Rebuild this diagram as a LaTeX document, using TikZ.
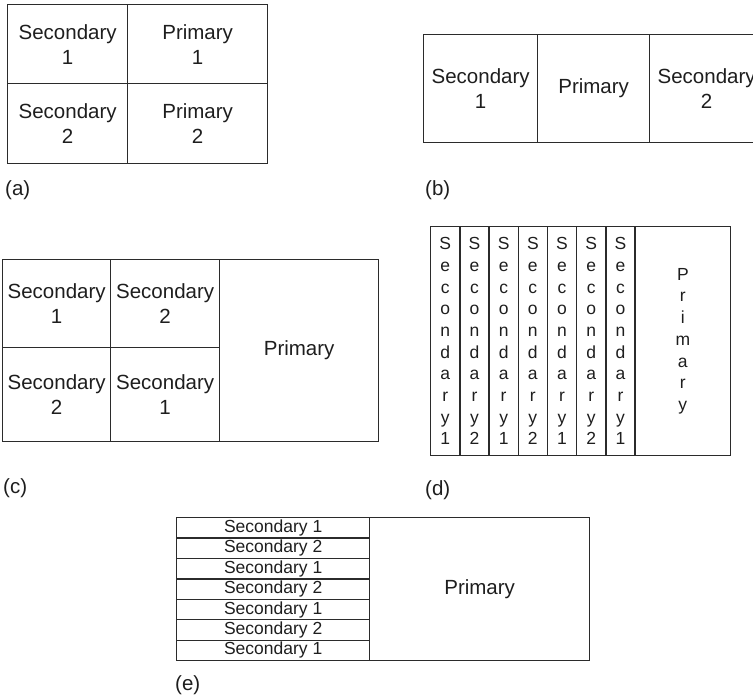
\documentclass[tikz,border=0pt]{standalone}
\usepackage{fontspec}
\setmainfont{Liberation Sans}
\usepackage{tikz}
\definecolor{LayoutLine}{HTML}{2B2B2B}
\definecolor{LayoutText}{HTML}{1E1E1E}
\tikzset{
  cell/.style={
    draw=LayoutLine,
    line width=1.3pt,
    anchor=north west,
    inner sep=0pt,
    align=center,
    text=LayoutText,
    font=\fontsize{20.5}{25}\selectfont
  },
  slim/.style={cell,font=\fontsize{17.5}{21.7}\selectfont},
  strip/.style={cell,font=\fontsize{17.5}{20}\selectfont},
  caption/.style={anchor=west,inner sep=0pt,text=LayoutText,font=\fontsize{20.5}{25}\selectfont}
}

\begin{document}
\begin{tikzpicture}[x=1pt,y=-1pt]
  \useasboundingbox (0,0) rectangle (753,698);

  % (a) two by two
  \node[cell,minimum width=120pt,minimum height=79pt] (a11) at (7,4) {Secondary\\1};
  \node[cell,minimum width=140pt,minimum height=79pt] (a12) at (127,4) {Primary\\1};
  \node[cell,minimum width=120pt,minimum height=80pt] (a21) at (7,83) {Secondary\\2};
  \node[cell,minimum width=140pt,minimum height=80pt] (a22) at (127,83) {Primary\\2};
  \node[caption] (la) at (5,190) {(a)};

  % (b) primary between two secondaries
  \node[cell,minimum width=114pt,minimum height=108pt] (b1) at (423,34) {Secondary\\1};
  \node[cell,minimum width=112pt,minimum height=108pt] (b2) at (537,34) {Primary};
  \node[cell,minimum width=114pt,minimum height=108pt] (b3) at (649,34) {Secondary\\2};
  \node[caption] (lb) at (425,190) {(b)};

  % (c) four secondaries beside primary
  \node[cell,minimum width=108pt,minimum height=88pt] (c11) at (2,259) {Secondary\\1};
  \node[cell,minimum width=109pt,minimum height=88pt] (c12) at (110,259) {Secondary\\2};
  \node[cell,minimum width=108pt,minimum height=94pt] (c21) at (2,347) {Secondary\\2};
  \node[cell,minimum width=109pt,minimum height=94pt] (c22) at (110,347) {Secondary\\1};
  \node[cell,minimum width=159pt,minimum height=182pt] (c3) at (219,259) {Primary};
  \node[caption] (lc) at (3,488) {(c)};

  % (d) vertical strips
  \foreach \n [count=\i from 0] in {1,2,1,2,1,2,1}
    \node[slim,minimum width=29.2pt,minimum height=229pt] (d\i) at ({430+29.2*\i},226)
      {S\\e\\c\\o\\n\\d\\a\\r\\y\\\n};
  \node[slim,minimum width=95.6pt,minimum height=229pt] (dp) at (634.4,226) {P\\r\\i\\m\\a\\r\\y};
  \node[caption] (ld) at (425,490) {(d)};

  % (e) horizontal strips
  \foreach \n [count=\i from 0] in {1,2,1,2,1,2,1}
    \node[strip,minimum width=193pt,minimum height=20.43pt] (e\i) at (176,{517+20.43*\i}) {Secondary \n};
  \node[cell,minimum width=220pt,minimum height=143pt] (ep) at (369,517) {Primary};
  \node[caption] (le) at (175,685) {(e)};
\end{tikzpicture}
\end{document}
